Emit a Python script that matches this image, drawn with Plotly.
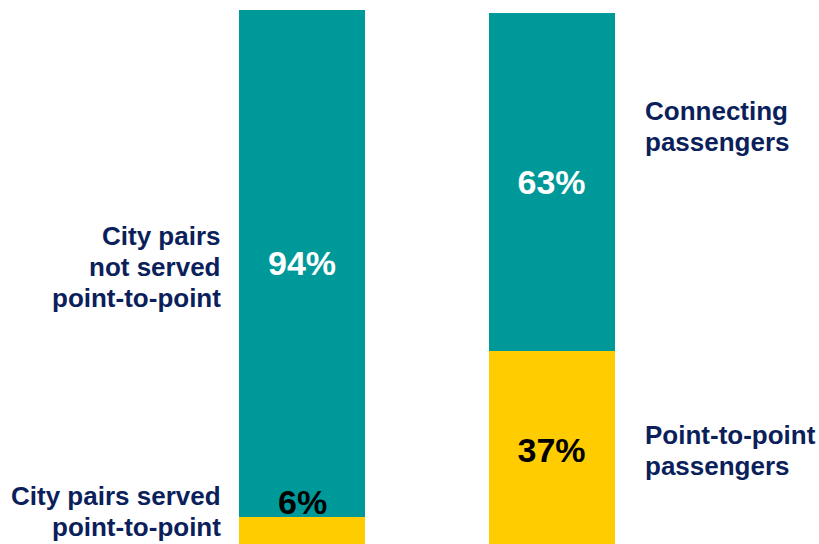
import plotly.graph_objects as go

# Two stacked 100% bars: share of city pairs and share of passengers
bars = ["City pairs", "Passengers"]
p2p_share = [6, 37]          # point-to-point part (bottom, yellow)
other_share = [94, 63]       # not served p2p / connecting part (top, teal)

left_labels = [["City pairs", "not served", "point-to-point"],
               ["City pairs served", "point-to-point"]]
right_labels = [["Connecting", "passengers"],
                ["Point-to-point", "passengers"]]

TEAL = "#009999"
YELLOW = "#FFCC00"
NAVY = "#0B1F5B"
FONT = "Liberation Sans, Arial, sans-serif"
W, H = 819, 544
PCT_SIZE = 34
LABEL_SIZE = 26
LINE_GAP = 31  # px between label baselines

fig = go.Figure()

bar_common = dict(width=0.505, marker_line_width=0, hoverinfo="skip",
                  textposition="inside", insidetextanchor="middle",
                  textangle=0, constraintext="none")

# Left bar (city pairs) on y, right bar (passengers) on y2
fig.add_trace(go.Bar(x=[bars[0]], y=[p2p_share[0]], marker_color=YELLOW, yaxis="y",
                     width=0.505, marker_line_width=0, hoverinfo="skip"))
fig.add_trace(go.Bar(x=[bars[0]], y=[other_share[0]], marker_color=TEAL, yaxis="y",
                     text=[f"{other_share[0]}%"],
                     textfont=dict(family=FONT, size=PCT_SIZE, color="white", weight="bold"),
                     **bar_common))
fig.add_trace(go.Bar(x=[bars[1]], y=[p2p_share[1]], marker_color=YELLOW, yaxis="y2",
                     text=[f"{p2p_share[1]}%"],
                     textfont=dict(family=FONT, size=PCT_SIZE, color="black", weight="bold"),
                     **bar_common))
fig.add_trace(go.Bar(x=[bars[1]], y=[other_share[1]], marker_color=TEAL, yaxis="y2",
                     text=[f"{other_share[1]}%"],
                     textfont=dict(family=FONT, size=PCT_SIZE, color="white", weight="bold"),
                     **bar_common))

label_font = dict(family=FONT, size=LABEL_SIZE, color=NAVY, weight="bold")


def label_lines(lines, x_px, first_baseline_px, side):
    """One annotation per line so the line spacing can be set exactly."""
    out = []
    for i, line in enumerate(lines):
        baseline = first_baseline_px + i * LINE_GAP
        centre = baseline - 0.35 * LABEL_SIZE
        out.append(dict(
            x=x_px / W, xref="paper",
            xanchor="right" if side == "left" else "left",
            y=1 - centre / H, yref="paper", yanchor="middle",
            text=line, showarrow=False, font=label_font))
    return out


annotations = [
    # small p2p share sits just above its thin segment
    dict(x=bars[0], y=p2p_share[0], xref="x", yref="y", text=f"{p2p_share[0]}%",
         showarrow=False, yanchor="bottom", yshift=-6,
         font=dict(family=FONT, size=PCT_SIZE, color="black", weight="bold")),
]
annotations += label_lines(left_labels[0], 223, 245, "left")
annotations += label_lines(left_labels[1], 223, 505, "left")
annotations += label_lines(right_labels[0], 643, 120, "right")
annotations += label_lines(right_labels[1], 643, 444, "right")

fig.update_layout(
    width=W, height=H,
    margin=dict(l=0, r=0, t=0, b=0),
    paper_bgcolor="white", plot_bgcolor="white",
    barmode="stack", showlegend=False,
    xaxis=dict(range=[-1.2104, 2.0721], visible=False, fixedrange=True),
    yaxis=dict(range=[0.9276, 101.856], visible=False, fixedrange=True),
    yaxis2=dict(range=[0.9328, 102.426], visible=False, overlaying="y", fixedrange=True),
    annotations=annotations,
)

fig.write_html("out.html", config={"displayModeBar": False})
